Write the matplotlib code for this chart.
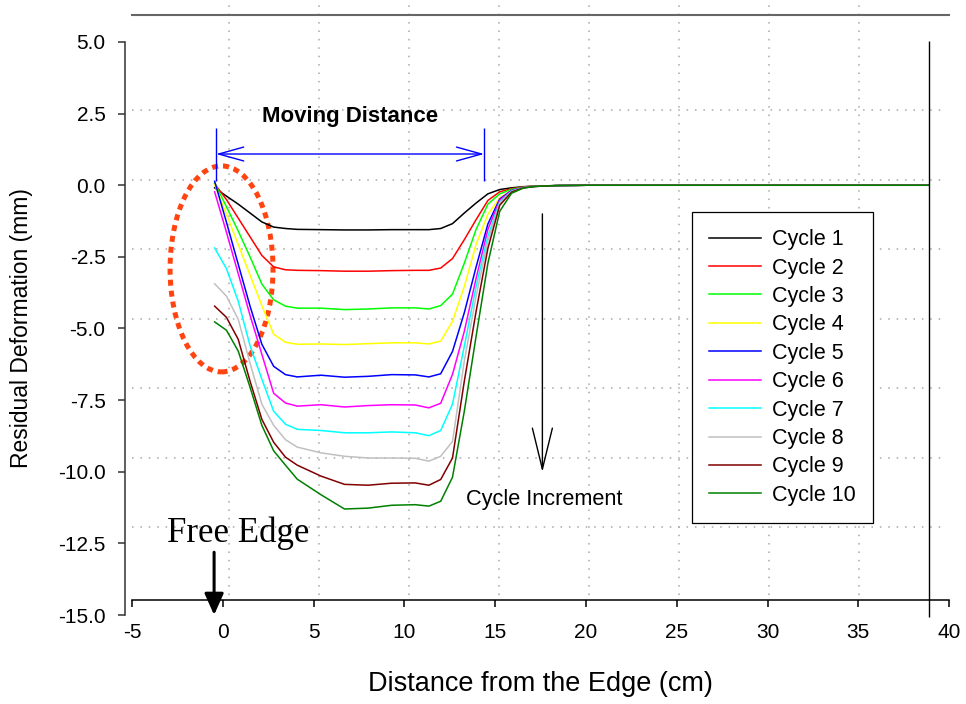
import numpy as np
import matplotlib
matplotlib.use("Agg")
import matplotlib.pyplot as plt
import matplotlib.patches as patches

plt.rcParams['font.family'] = ['Liberation Sans', 'DejaVu Sans']

# distance from the free edge (cm), shared by every cycle
distance = [-0.45, 0.2, 0.85, 1.5, 2.15, 2.8, 3.45, 4.1, 5.4, 6.7, 8.0, 9.3, 10.6,
            11.35, 12.0, 12.65, 13.3, 13.95, 14.6, 15.25, 15.9, 16.55, 17.2, 18.5,
            20.0, 25.0, 30.0, 35.0, 38.9]

# residual deformation (mm) for each loading cycle
cycle_1 = [-0.09, -0.38, -0.66, -0.97, -1.28, -1.46, -1.51, -1.54, -1.55, -1.56, -1.56, -1.55, -1.55,
           -1.55, -1.51, -1.34, -0.97, -0.62, -0.30, -0.15, -0.09, -0.05, -0.03, -0.01,
           0.0, 0.0, 0.0, 0.0, 0.0]
cycle_2 = [0.05, -0.50, -1.15, -1.80, -2.45, -2.85, -2.95, -2.97, -2.98, -3.00, -3.00, -2.98, -2.97,
           -2.97, -2.89, -2.56, -1.90, -1.20, -0.53, -0.23, -0.12, -0.06, -0.03, -0.01,
           0.0, 0.0, 0.0, 0.0, 0.0]
cycle_3 = [0.08, -0.75, -1.60, -2.50, -3.45, -4.00, -4.22, -4.29, -4.29, -4.34, -4.32, -4.28, -4.28,
           -4.32, -4.20, -3.80, -2.72, -1.54, -0.66, -0.30, -0.14, -0.07, -0.03, -0.01,
           0.0, 0.0, 0.0, 0.0, 0.0]
cycle_4 = [0.03, -1.02, -2.07, -3.14, -4.20, -5.20, -5.48, -5.55, -5.54, -5.56, -5.53, -5.50, -5.50,
           -5.54, -5.44, -4.75, -3.53, -2.06, -1.01, -0.44, -0.18, -0.08, -0.04, -0.01,
           0.0, 0.0, 0.0, 0.0, 0.0]
cycle_5 = [0.14, -1.29, -2.76, -4.22, -5.55, -6.32, -6.61, -6.69, -6.63, -6.70, -6.67, -6.61, -6.62,
           -6.69, -6.58, -5.80, -4.45, -2.85, -1.35, -0.48, -0.18, -0.08, -0.04, -0.01,
           0.0, 0.0, 0.0, 0.0, 0.0]
cycle_6 = [-0.23, -1.64, -3.09, -4.54, -5.90, -7.26, -7.60, -7.71, -7.66, -7.74, -7.69, -7.66, -7.67,
           -7.77, -7.61, -6.60, -5.10, -3.25, -1.54, -0.52, -0.19, -0.08, -0.04, -0.01,
           0.0, 0.0, 0.0, 0.0, 0.0]
cycle_7 = [-2.19, -2.91, -4.05, -5.60, -6.77, -7.89, -8.34, -8.52, -8.56, -8.64, -8.64, -8.61, -8.64,
           -8.74, -8.56, -7.64, -5.62, -3.53, -1.78, -0.59, -0.21, -0.09, -0.04, -0.01,
           0.0, 0.0, 0.0, 0.0, 0.0]
cycle_8 = [-3.44, -3.87, -4.68, -6.21, -7.64, -8.38, -8.88, -9.14, -9.34, -9.46, -9.52, -9.52, -9.53,
           -9.63, -9.46, -8.94, -6.14, -3.87, -1.95, -0.63, -0.23, -0.09, -0.04, -0.01,
           0.0, 0.0, 0.0, 0.0, 0.0]
cycle_9 = [-4.22, -4.61, -5.38, -6.84, -8.17, -8.97, -9.49, -9.77, -10.15, -10.44, -10.47, -10.40, -10.39,
           -10.47, -10.27, -9.52, -6.84, -4.40, -2.20, -0.70, -0.24, -0.09, -0.04, -0.01,
           0.0, 0.0, 0.0, 0.0, 0.0]
cycle_10 = [-4.77, -5.06, -5.79, -7.05, -8.38, -9.27, -9.77, -10.26, -10.80, -11.30, -11.27, -11.17, -11.15,
            -11.20, -11.03, -10.19, -7.89, -5.27, -2.72, -0.91, -0.28, -0.10, -0.04, -0.01,
            0.0, 0.0, 0.0, 0.0, 0.0]

cycles = [cycle_1, cycle_2, cycle_3, cycle_4, cycle_5,
          cycle_6, cycle_7, cycle_8, cycle_9, cycle_10]
cycle_labels = ["Cycle %d" % (i + 1) for i in range(len(cycles))]
cycle_colors = ["#000000", "#FF0000", "#00FF00", "#FFFF00", "#0000FF",
                "#FF00FF", "#00FFFF", "#C0C0C0", "#800000", "#008000"]

x_ticks = np.arange(-5, 41, 5)
y_ticks = np.arange(-15, 5.1, 2.5)

# wheel travel span marked above the curves (cm)
moving_start, moving_end = -0.37, 14.39

W, H = 966, 704
fig = plt.figure(figsize=(W / 100, H / 100), dpi=100)

# dotted background grid sits in its own frame, a few pixels off the tick axes
gax = fig.add_axes([132 / W, 1 - 595 / H, (947 - 132) / W, 595 / H])
gax.set_xlim(-5.389, 39.89)
gax.set_ylim(-14.946, 6.457)
gax.set_xticks(np.arange(0, 36, 5))
gax.set_yticks(np.arange(-12.5, 3, 2.5))
gax.grid(True, ls=(0, (1, 4.5)), color="#a8a8a8", lw=1.1)
gax.tick_params(length=0, labelbottom=False, labelleft=False)
for s in gax.spines.values():
    s.set_visible(False)
gax.patch.set_visible(False)

ax = fig.add_axes([125 / W, 1 - 625 / H, (960 - 125) / W, (625 - 15) / H])
ax.patch.set_visible(False)
ax.set_xlim(-5.387, 40.60)
ax.set_ylim(-15.349, 5.942)

lines = []
for vals, lab, col in zip(cycles, cycle_labels, cycle_colors):
    ln, = ax.plot(distance, vals, color=col, lw=1.1, label=lab)
    lines.append(ln)

# closing line at the end of the measured profile
ax.vlines(distance[-1], -15.08, 5.03, color="black", lw=1.0, clip_on=False)

ax.spines['right'].set_visible(False)
ax.spines['top'].set_bounds(-5, 40)
ax.spines['top'].set_color("#666666")
ax.spines['top'].set_linewidth(1.5)
ax.spines['left'].set_bounds(-15, 5)
ax.spines['left'].set_color("#333333")
ax.spines['left'].set_linewidth(1.1)
ax.spines['bottom'].set_position(('data', -14.48))
ax.spines['bottom'].set_bounds(-5, 40)
ax.spines['bottom'].set_linewidth(1.1)

ax.set_xticks(x_ticks)
ax.set_xticklabels(["%d" % v for v in x_ticks])
ax.set_yticks(y_ticks)
ax.set_yticklabels(["%.1f" % v for v in y_ticks])
ax.tick_params(axis='x', direction='out', length=5, width=1.1, pad=11.5, labelsize=15)
ax.tick_params(axis='y', direction='out', length=5, width=1.1, pad=9, labelsize=15,
               color="#333333")

ax.set_xlabel("Distance from the Edge (cm)", fontsize=19.5, va='center')
ax.xaxis.set_label_coords((540 - 125) / 835, (625 - 684) / 610)
ax.set_ylabel("Residual Deformation (mm)", fontsize=16.5, va='center')
ax.yaxis.set_label_coords((22 - 125) / 835, (625 - 328) / 610)

# moving distance bracket
ax.annotate("", xy=(moving_start, 1.09), xytext=(moving_end, 1.09),
            arrowprops=dict(arrowstyle="<->, head_length=1.8, head_width=0.5",
                            mutation_scale=10, color="blue", lw=1.0,
                            shrinkA=0, shrinkB=0))
ax.vlines([moving_start, moving_end], 0.15, 2.0, color="blue", lw=1.0)
ax.text(7.0, 2.4, "Moving Distance",
        fontsize=16, fontweight='bold', ha='center', va='center')

# cycle increment arrow
ax.annotate("", xy=(17.6, -10.01), xytext=(17.6, -1.0),
            arrowprops=dict(arrowstyle="->, head_length=2.95, head_width=0.72",
                            mutation_scale=10, color="black", lw=1.0,
                            shrinkA=0, shrinkB=0))
ax.text(17.7, -10.98, "Cycle Increment", fontsize=15.7, ha='center', va='center')

# free edge marker
ax.annotate("", xy=(-0.48, -15.0), xytext=(-0.48, -12.81),
            arrowprops=dict(arrowstyle="-|>, head_length=1.3, head_width=0.58",
                            mutation_scale=10, color="black", lw=2.2,
                            shrinkA=0, shrinkB=0),
            annotation_clip=False)
ax.text(0.84, -12.14, "Free Edge", fontsize=25, ha='center', va='center',
        family=['Liberation Serif', 'DejaVu Serif'])

# edge zone highlight
edge_zone = patches.Ellipse((-0.07, -2.92), 5.67, 7.19, fill=False,
                            edgecolor="#ff4411", lw=3.6, ls=(0, (1.2, 1.0)))
ax.add_patch(edge_zone)

leg = ax.legend(handles=lines, loc='center',
                bbox_to_anchor=(782.5 / W, 1 - 367.5 / H), bbox_transform=fig.transFigure,
                fontsize=15.5, frameon=True, fancybox=False, framealpha=1,
                edgecolor="black", handlelength=2.4, handletextpad=0.55,
                labelspacing=0.345, borderpad=0.8, borderaxespad=0)
leg.get_frame().set_linewidth(0.9)

fig.savefig("out.png", dpi=100)
